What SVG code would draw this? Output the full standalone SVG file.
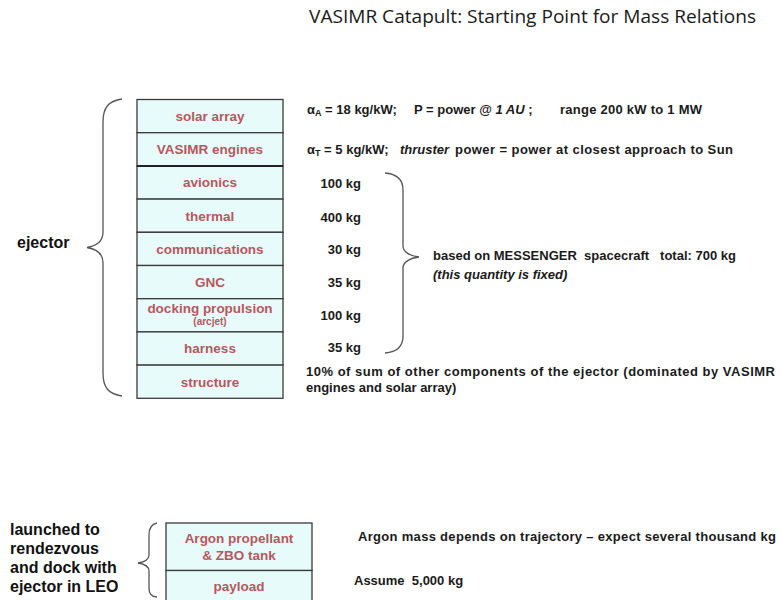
<svg xmlns="http://www.w3.org/2000/svg" width="781" height="600" viewBox="0 0 781 600">
<style>
.bg{fill:#ffffff}
.cell{fill:#e8fbfb;stroke:#3a3a3a;stroke-width:1.3}
.lbl{font-family:"Liberation Sans",Arial,sans-serif;font-weight:bold;font-size:13.5px;fill:#b5585e;text-anchor:middle}
.small{font-size:10px}
.t{font-family:"Liberation Sans",Arial,sans-serif;font-weight:bold;font-size:13px;fill:#1a1a1a}
.big{font-family:"Liberation Sans",Arial,sans-serif;font-weight:bold;font-size:16px;fill:#111}
.title{font-family:"Open Sans","Liberation Sans",sans-serif;font-size:19px;fill:#1a1a1a}
.brace{fill:none;stroke:#555;stroke-width:1.3}
.it{font-style:italic}
.sub{font-size:9px}
</style>
<rect class="bg" x="0" y="0" width="781" height="600"/>
<text class="title" x="309" y="23" textLength="447" lengthAdjust="spacingAndGlyphs">VASIMR Catapult: Starting Point for Mass Relations</text>

<g id="ejector-stack">
  <g id="n-solar-array"><rect class="cell" x="137" y="99.5" width="146" height="33.2"/><text class="lbl" x="210" y="121">solar array</text></g>
  <g id="n-vasimr-engines"><rect class="cell" x="137" y="132.7" width="146" height="33.2"/><text class="lbl" x="210" y="154.2">VASIMR engines</text></g>
  <g id="n-avionics"><rect class="cell" x="137" y="165.9" width="146" height="33.2"/><text class="lbl" x="210" y="187.4">avionics</text></g>
  <g id="n-thermal"><rect class="cell" x="137" y="199.1" width="146" height="33.2"/><text class="lbl" x="210" y="220.6">thermal</text></g>
  <g id="n-communications"><rect class="cell" x="137" y="232.3" width="146" height="33.2"/><text class="lbl" x="210" y="253.8">communications</text></g>
  <g id="n-gnc"><rect class="cell" x="137" y="265.5" width="146" height="33.2"/><text class="lbl" x="210" y="287">GNC</text></g>
  <g id="n-docking"><rect class="cell" x="137" y="298.7" width="146" height="33.2"/><text class="lbl" x="210" y="312.5">docking propulsion</text><text class="lbl small" x="210" y="325">(arcjet)</text></g>
  <g id="n-harness"><rect class="cell" x="137" y="331.9" width="146" height="33.2"/><text class="lbl" x="210" y="353.4">harness</text></g>
  <g id="n-structure"><rect class="cell" x="137" y="365.1" width="146" height="33.2"/><text class="lbl" x="210" y="386.6">structure</text></g>
  <line x1="137" y1="165.9" x2="283" y2="165.9" stroke="#222" stroke-width="2"/>
</g>

<g id="launch-stack">
  <g id="n-argon"><rect class="cell" x="166" y="523" width="146" height="47.5"/><text class="lbl" x="239" y="542.7">Argon propellant</text><text class="lbl" x="239" y="559.5">&amp; ZBO tank</text></g>
  <g id="n-payload"><rect class="cell" x="166" y="570.5" width="146" height="47.5"/><text class="lbl" x="239" y="591">payload</text></g>
</g>

<g id="connectors">
  <path class="brace" d="M122,99 C108,101 103,108 103,122 L103,232 C103,242 96,246 87,247.5 C96,249 103,253 103,263 L103,373 C103,387 108,394 122,396"/>
  <path class="brace" d="M385,173 C398,174 403,180 403,190 L403,246 C403,252 410,256 419,257 C410,258 403,262 403,268 L403,336 C403,346 398,352 385,353"/>
  <path class="brace" d="M157,523 C152,524 149,528 149,535 L149,555 C149,560 144,562 138,563 C144,564 149,566 149,571 L149,588 C149,594 152,597 157,597"/>
</g>

<g id="labels">
  <text class="big" x="17" y="248">ejector</text>
  <text class="big" x="10" y="535">launched to</text>
  <text class="big" x="10" y="554">rendezvous</text>
  <text class="big" x="10" y="573">and dock with</text>
  <text class="big" x="10" y="592">ejector in LEO</text>

  <text class="t" y="114"><tspan x="307">α</tspan><tspan class="sub" dy="2">A</tspan><tspan dy="-2"> = 18 kg/kW;</tspan><tspan x="414">P = power @ </tspan><tspan class="it">1 AU</tspan><tspan> ;</tspan><tspan x="560" textLength="142">range 200 kW to 1 MW</tspan></text>
  <text class="t" y="154"><tspan x="307">α</tspan><tspan class="sub" dy="2">T</tspan><tspan dy="-2"> = 5 kg/kW;</tspan><tspan x="400" class="it">thruster</tspan><tspan x="455" textLength="278">power = power at closest approach to Sun</tspan></text>

  <text class="t" x="361" y="188" text-anchor="end">100 kg</text>
  <text class="t" x="361" y="221.5" text-anchor="end">400 kg</text>
  <text class="t" x="361" y="254" text-anchor="end">30 kg</text>
  <text class="t" x="361" y="287" text-anchor="end">35 kg</text>
  <text class="t" x="361" y="320" text-anchor="end">100 kg</text>
  <text class="t" x="361" y="352" text-anchor="end">35 kg</text>

  <text class="t" x="433" y="260" textLength="303" xml:space="preserve">based on MESSENGER  spacecraft   total: 700 kg</text>
  <text class="t it" x="433" y="279">(this quantity is fixed)</text>

  <text class="t" x="306" y="376" textLength="469">10% of sum of other components of the ejector (dominated by VASIMR</text>
  <text class="t" x="306" y="392">engines and solar array)</text>

  <text class="t" x="358" y="541" textLength="418">Argon mass depends on trajectory – expect several thousand kg</text>
  <text class="t" x="354" y="585" xml:space="preserve">Assume  5,000 kg</text>
</g>
</svg>
